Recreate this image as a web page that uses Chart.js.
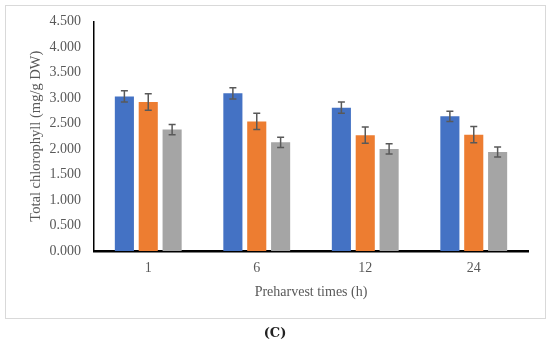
<!DOCTYPE html>
<html>
<head>
<meta charset="utf-8">
<script src="https://cdn.jsdelivr.net/npm/chart.js@4/dist/chart.umd.min.js"></script>
<style>
  body { margin: 0; background: #fff; width: 550px; height: 342px; position: relative; overflow: hidden; }
  #frame { position: absolute; left: 5px; top: 5px; width: 539px; height: 312px; border: 1px solid #d9d9d9; }
  #chart { position: absolute; left: 0; top: 0; }
  #caption { position: absolute; left: 0; width: 550px; top: 325px; text-align: center;
    font: bold 13px "DejaVu Serif", serif; color: #222; }
</style>
</head>
<body>
<div id="frame"></div>
<canvas id="chart" width="550" height="342"></canvas>
<div id="caption">(C)</div>
<script>
const categories = ["1", "6", "12", "24"];
const blueValues = [3.03, 3.09, 2.81, 2.64];
const orangeValues = [2.92, 2.54, 2.27, 2.28];
const grayValues = [2.38, 2.13, 2.00, 1.94];
const blueErrors = [0.11, 0.11, 0.11, 0.10];
const orangeErrors = [0.16, 0.16, 0.16, 0.16];
const grayErrors = [0.10, 0.10, 0.10, 0.10];
const yTicks = [0, 0.5, 1, 1.5, 2, 2.5, 3, 3.5, 4, 4.5];

const textColor = "#595959";
const serif = "'Liberation Serif', 'Times New Roman', serif";

// error bars drawn on top of the bars
const errorBars = {
  id: "errorBars",
  afterDatasetsDraw(chart) {
    const ctx = chart.ctx;
    const y = chart.scales.y;
    ctx.save();
    ctx.strokeStyle = "#595959";
    ctx.lineWidth = 1.5;
    chart.data.datasets.forEach((ds, i) => {
      const meta = chart.getDatasetMeta(i);
      meta.data.forEach((bar, j) => {
        const top = y.getPixelForValue(ds.data[j] + ds.errors[j]);
        const bot = y.getPixelForValue(ds.data[j] - ds.errors[j]);
        ctx.beginPath();
        ctx.moveTo(bar.x, top);
        ctx.lineTo(bar.x, bot);
        ctx.moveTo(bar.x - 3.5, top);
        ctx.lineTo(bar.x + 3.5, top);
        ctx.moveTo(bar.x - 3.5, bot);
        ctx.lineTo(bar.x + 3.5, bot);
        ctx.stroke();
      });
    });
    ctx.restore();
  },
};

new Chart(document.getElementById("chart"), {
  type: "bar",
  data: {
    labels: categories,
    datasets: [
      { data: blueValues, errors: blueErrors, backgroundColor: "#4472C4" },
      { data: orangeValues, errors: orangeErrors, backgroundColor: "#ED7D31" },
      { data: grayValues, errors: grayErrors, backgroundColor: "#A5A5A5" },
    ],
  },
  options: {
    responsive: false,
    devicePixelRatio: 1,
    animation: false,
    layout: { padding: { left: 0, right: 22, top: 20, bottom: 41 } },
    datasets: { bar: { categoryPercentage: 0.66, barPercentage: 0.8 } },
    plugins: { legend: { display: false }, tooltip: { enabled: false } },
    scales: {
      x: {
        grid: { display: false, drawTicks: false },
        border: { display: true, color: "#000", width: 2.5 },
        ticks: { color: textColor, padding: 9, font: { family: serif, size: 14 } },
        title: {
          display: true,
          text: "Preharvest times (h)",
          color: textColor,
          padding: 0,
          font: { family: serif, size: 14 },
        },
        afterFit(scale) { scale.height = 50; },
      },
      y: {
        min: 0,
        max: 4.5,
        grid: { display: false, drawTicks: false },
        border: { display: true, color: "#000", width: 1.5 },
        afterBuildTicks(scale) { scale.ticks = yTicks.map((v) => ({ value: v })); },
        ticks: {
          color: textColor,
          padding: 13,
          font: { family: serif, size: 14 },
          callback: (v) => Number(v).toFixed(3),
        },
        title: {
          display: true,
          text: "Total chlorophyll (mg/g DW)",
          color: textColor,
          padding: { top: 27, bottom: 0 },
          font: { family: serif, size: 14.5 },
        },
        afterFit(scale) { scale.width = 94; },
      },
    },
  },
  plugins: [errorBars],
});
</script>
</body>
</html>
